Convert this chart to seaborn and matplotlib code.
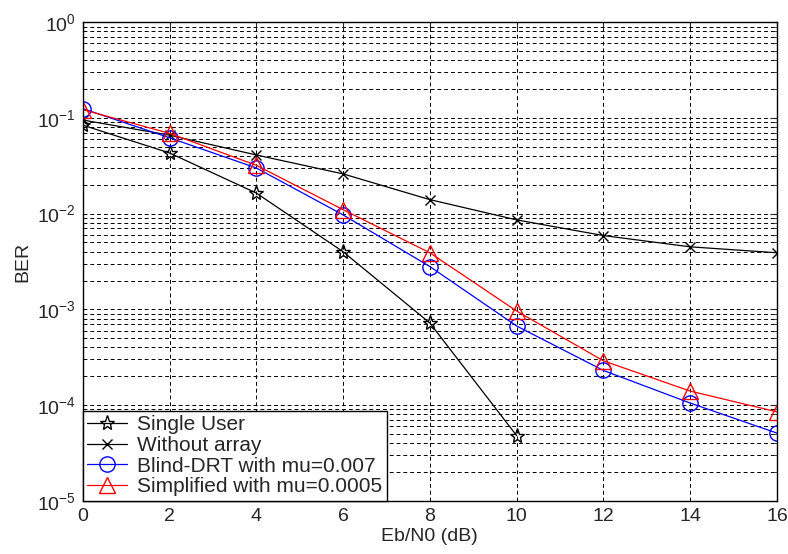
import numpy as np
import pandas as pd
import matplotlib
matplotlib.use("Agg")
import matplotlib.pyplot as plt
import seaborn as sns
from matplotlib.ticker import LogLocator, NullFormatter

# dados
ebn0 = [0, 2, 4, 6, 8, 10, 12, 14, 16]
single_user = [0.084, 0.043, 0.0164, 0.0040, 7.2e-4, 4.8e-5]
without_array = [0.095, 0.066, 0.041, 0.026, 0.014, 0.0086, 0.0059, 0.0045, 0.0039]
blind_drt = [0.125, 0.062, 0.030, 0.0097, 0.0028, 6.7e-4, 2.3e-4, 1.05e-4, 5.1e-5]
simplified = [0.122, 0.069, 0.032, 0.011, 0.0039, 9.6e-4, 2.9e-4, 1.4e-4, 8.5e-5]

series_names = ["Single User", "Without array",
                "Blind-DRT with mu=0.007", "Simplified with mu=0.0005"]

sns.set_style("white")
plt.rcParams["font.family"] = ["Liberation Sans", "DejaVu Sans"]
plt.rcParams["mathtext.fontset"] = "custom"
plt.rcParams["mathtext.rm"] = "Liberation Sans"

frames = []
for name, vals in zip(series_names, [single_user, without_array, blind_drt, simplified]):
    frames.append(pd.DataFrame({"Eb/N0": ebn0[:len(vals)], "BER": vals, "serie": name}))
df = pd.concat(frames, ignore_index=True)

estilos = {
    "Single User": dict(color="black", marker="*", ms=11, lw=0.9),
    "Without array": dict(color="black", marker="x", ms=7, lw=0.9),
    "Blind-DRT with mu=0.007": dict(color="blue", marker="o", ms=11, lw=0.9),
    "Simplified with mu=0.0005": dict(color="red", marker="^", ms=12, lw=0.9),
}

fig = plt.figure(figsize=(7.88, 5.54), dpi=100)
ax = fig.add_axes([0.105, 0.096, 0.881, 0.864])

for name in series_names:
    st = estilos[name]
    sub = df[df["serie"] == name]
    sns.lineplot(data=sub, x="Eb/N0", y="BER", ax=ax, color=st["color"],
                 marker=st["marker"], markersize=st["ms"], linewidth=st["lw"],
                 markerfacecolor="none", markeredgecolor=st["color"],
                 markeredgewidth=1.0, label=name)

ax.set_yscale("log")
ax.set_xlim(0, 16)
ax.set_ylim(1e-5, 1)
ax.set_xticks(ebn0)
ax.yaxis.set_major_locator(LogLocator(base=10, numticks=10))
ax.yaxis.set_minor_locator(LogLocator(base=10, subs=np.arange(2, 10), numticks=20))
ax.yaxis.set_minor_formatter(NullFormatter())
ax.grid(True, which="both", axis="y", ls=(0, (4, 3)), color="black", lw=0.7)
ax.grid(True, which="major", axis="x", ls=(0, (4, 3)), color="black", lw=0.7)
ax.tick_params(which="both", direction="in", top=True, right=True, labelsize=14)
ax.tick_params(which="major", length=5, pad=5)
ax.tick_params(which="minor", length=3)
for s in ax.spines.values():
    s.set_color("black")
    s.set_linewidth(1.0)

ax.set_xlabel("Eb/N0 (dB)", fontsize=14, labelpad=2)
ax.set_ylabel("BER", fontsize=14, labelpad=4)

leg = ax.legend(loc="lower left", fontsize=15, frameon=True, fancybox=False,
                borderaxespad=0, handlelength=1.9, handletextpad=0.5,
                labelspacing=0.08, borderpad=0.22)
leg.get_frame().set_edgecolor("black")
leg.get_frame().set_linewidth(1.0)
leg.get_frame().set_alpha(1)

fig.savefig("out.png", dpi=100)
plt.close(fig)
